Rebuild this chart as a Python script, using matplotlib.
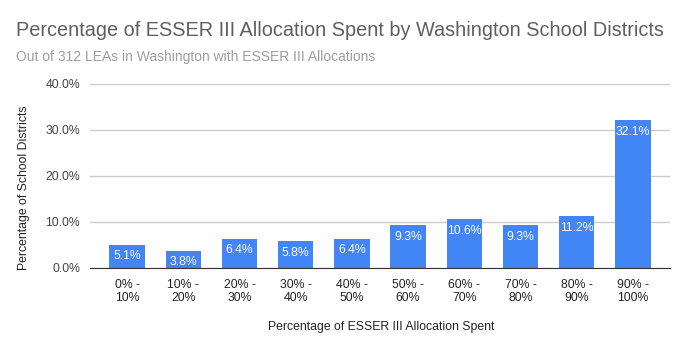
import matplotlib
matplotlib.use("Agg")
import matplotlib.pyplot as plt

categories = ["0% -\n10%", "10% -\n20%", "20% -\n30%", "30% -\n40%", "40% -\n50%",
              "50% -\n60%", "60% -\n70%", "70% -\n80%", "80% -\n90%", "90% -\n100%"]
values = [5.1, 3.8, 6.4, 5.8, 6.4, 9.3, 10.6, 9.3, 11.2, 32.1]
yticks = [0, 10, 20, 30, 40]

plt.rcParams['font.family'] = ['Liberation Sans', 'DejaVu Sans']

fig = plt.figure(figsize=(6.88, 3.52), dpi=100)
W, H = 688, 352
ax = fig.add_axes([90 / W, 1 - 268 / H, 580 / W, (268 - 84) / H])

FS = 8.8
x = list(range(len(values)))
bars = ax.bar(x, values, width=0.63, color="#4285f4", zorder=3)
for xi, v in zip(x, values):
    ax.text(xi, v - 2.5, f"{v:.1f}%", ha="center", va="center", color="white", fontsize=FS, zorder=4)

ax.set_xlim(-0.66, 9.66)
ax.set_ylim(0, 40)
ax.set_yticks(yticks)
ax.set_yticklabels([f"{t:.1f}%" for t in yticks], fontsize=FS, color="#444444")
ax.set_xticks(x)
ax.set_xticklabels(categories, fontsize=FS, color="#222222", linespacing=1.15)
ax.tick_params(axis="both", length=0)
ax.tick_params(axis="y", pad=7)
ax.tick_params(axis="x", pad=8)
ax.grid(axis="y", color="#cccccc", linewidth=1, zorder=0)
for s in ["top", "right", "left"]:
    ax.spines[s].set_visible(False)
ax.spines["bottom"].set_color("#333333")
ax.spines["bottom"].set_zorder(5)

ax.set_xlabel("Percentage of ESSER III Allocation Spent", fontsize=FS, color="#222222")
ax.xaxis.set_label_coords((381 - 90) / 580, -(321 - 268) / 184)
ax.set_ylabel("Percentage of School Districts", fontsize=FS, color="#222222")
ax.yaxis.set_label_coords((30 - 90) / 580, (268 - 188) / 184)

fig.text(16 / W, 1 - 30 / H, "Percentage of ESSER III Allocation Spent by Washington School Districts",
         fontsize=14.3, color="#5f5f5f", va="center", ha="left")
fig.text(16 / W, 1 - 57 / H, "Out of 312 LEAs in Washington with ESSER III Allocations",
         fontsize=10, color="#9e9e9e", va="center", ha="left")

fig.savefig("out.png", dpi=100)
